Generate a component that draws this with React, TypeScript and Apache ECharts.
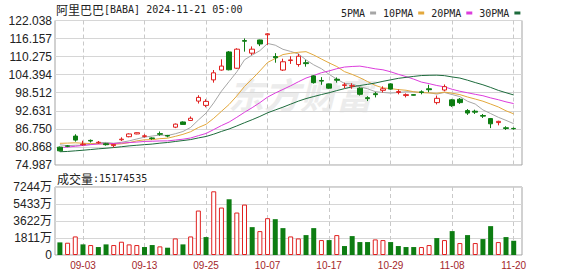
import React, { useEffect, useRef } from 'react';
import * as echarts from 'echarts';

const dates = ['08-28','08-29','08-30','09-03','09-04','09-05','09-06','09-09','09-10','09-11','09-12','09-13','09-16','09-17','09-18','09-19','09-20','09-23','09-24','09-25','09-26','09-27','09-30','10-01','10-02','10-03','10-04','10-07','10-08','10-09','10-10','10-11','10-14','10-15','10-16','10-17','10-18','10-21','10-22','10-23','10-24','10-25','10-28','10-29','10-30','10-31','11-01','11-04','11-05','11-06','11-07','11-08','11-11','11-12','11-13','11-14','11-15','11-18','11-19','11-20'];

const opens = [80.8,81.2,84.4,81.6,83.0,82.2,81.9,81.3,83.2,84.2,85.1,84.3,83.8,85.2,84.6,87.3,89.0,89.5,95.8,94.4,102.7,105.9,111.8,106.5,115.5,111.4,115.7,117.4,110.3,105.9,109.0,107.7,108.3,104.0,102.5,101.4,102.9,100.9,100.7,100.0,96.9,98.2,99.3,101.4,98.6,97.6,97.9,98.8,99.8,95.3,99.4,96.2,96.4,92.7,92.5,91.1,90.1,88.8,87.1,86.9];
const closes = [79.6,81.1,83.1,81.8,82.8,82.4,81.6,81.7,83.4,85.1,85.5,84.5,83.6,85.0,84.4,88.3,88.2,90.2,97.0,95.7,105.0,107.2,106.0,112.7,115.3,112.7,114.4,117.7,109.9,108.6,109.2,110.4,108.0,101.8,102.3,100.0,102.6,101.1,100.8,98.0,96.6,97.9,99.8,99.7,98.9,97.9,97.7,98.6,99.5,96.7,100.5,94.3,95.3,91.9,92.2,90.9,88.4,89.2,86.9,86.8];
const lows = [79.4,80.8,82.6,81.3,82.3,81.9,81.3,80.7,82.8,84.0,85.0,83.9,83.2,84.5,84.0,87.0,88.1,89.3,95.0,93.8,101.8,105.7,105.8,106.3,111.9,110.8,113.7,114.1,108.3,105.6,107.9,107.0,107.0,101.5,101.1,99.8,101.8,100.0,99.8,97.6,95.8,97.0,98.6,99.5,98.0,97.0,97.6,98.0,98.7,94.7,99.0,93.9,94.9,91.3,91.6,90.3,87.0,87.9,86.4,86.5];
const highs = [81.0,81.5,85.0,82.9,83.3,82.8,82.2,81.8,84.0,85.3,85.6,85.0,84.0,85.9,84.8,88.5,89.2,90.8,97.7,96.4,105.9,109.4,112.1,113.0,116.2,113.6,115.8,117.9,111.4,109.6,110.4,111.2,109.2,104.2,103.6,101.5,103.5,101.8,101.6,100.3,97.4,98.8,100.6,101.6,99.6,98.3,98.0,99.3,101.1,97.6,101.2,96.5,96.8,93.2,93.0,91.6,90.3,89.4,87.6,87.2];

const volumes = [13430000,13080000,19790000,11310000,10600000,8480000,11310000,10600000,14140000,11310000,10600000,8480000,10600000,9190000,7770000,17670000,11310000,19790000,47360000,19080000,67850000,50540000,59370000,45240000,53720000,29690000,25450000,39230000,38170000,28630000,19790000,17670000,21200000,28630000,15900000,15900000,21200000,9540000,20140000,13780000,13780000,16610000,15900000,13780000,9540000,8480000,8480000,8480000,10600000,18020000,15900000,25450000,12720000,21200000,12720000,16960000,30750000,13780000,19080000,15174535];

// closes of the 29 sessions before 08-28, estimated from where the MA lines start
const priorCloses = [78.0,77.2,76.1,75.8,75.5,75.9,75.0,75.4,76.8,79.3,78.6,77.9,76.2,77.8,78.5,79.1,80.6,81.0,81.5,82.3,80.5,82.0,83.2,84.0,82.9,82.6,82.4,81.9,81.4];

const maPeriods = [5, 10, 20, 30];
const maNames = ['5PMA', '10PMA', '20PMA', '30PMA'];
const maColors = ['#a6a6a6', '#e3a83c', '#dc3ddc', '#1d6b3c'];

const priceTickLabels = ['74.987','80.868','86.750','92.631','98.512','104.394','110.275','116.157','122.038'];
const volumeTickLabels = ['0','1811万','3622万','5433万','7244万'];
const labelDates = ['09-03','09-13','09-25','10-07','10-17','10-29','11-08','11-20'];

const priceMin = 74.987;
const priceMax = 122.038;
const volumeMax = 72440000;

const UP = '#e0201f';
const DOWN = '#0d7d12';

function movingAverage(period: number): (number | string)[] {
  const all = priorCloses.concat(closes);
  const off = priorCloses.length;
  return closes.map((_, i) => {
    const end = off + i;
    const start = end - period + 1;
    if (start < 0) return '-';
    let s = 0;
    for (let k = start; k <= end; k++) s += all[k];
    return +(s / period).toFixed(3);
  });
}

export default function App() {
  const ref = useRef<HTMLDivElement>(null);
  useEffect(() => {
    if (!ref.current) return;
    const chart = echarts.init(ref.current, undefined, { renderer: 'svg' });
    const priceInterval = (priceMax - priceMin) / 8;
    const volInterval = volumeMax / 4;
    const isLabel = (index: number) => labelDates.indexOf(dates[index]) >= 0;

    const ohlc = dates.map((_, i) => [opens[i], closes[i], lows[i], highs[i]]);
    const volData = volumes.map((v, i) => {
      const prev = i === 0 ? priorCloses[priorCloses.length - 1] : closes[i - 1];
      const up = closes[i] >= prev;
      return {
        value: v,
        itemStyle: up
          ? { color: '#ffffff', borderColor: UP, borderWidth: 1 }
          : { color: DOWN, borderColor: DOWN, borderWidth: 0 },
      };
    });

    const splitDash = { show: true, interval: (i: number) => isLabel(i), lineStyle: { color: '#c9c9c9', type: [4, 3] as any, width: 1 } };

    const option: any = {
      animation: false,
      backgroundColor: '#ffffff',
      textStyle: { fontFamily: 'Liberation Sans, Arial, sans-serif' },
      legend: {
        data: maNames,
        left: 336,
        top: 3,
        align: 'right',
        icon: 'rect',
        itemWidth: 6,
        itemHeight: 3,
        itemGap: 7,
        selectedMode: false,
        textStyle: { fontFamily: 'DejaVu Sans Mono', fontSize: 10, color: '#222' },
      },
      graphic: [
        {
          type: 'text', x: 228, y: 93, z: -1, silent: true,
          style: { text: '东方财富', fontSize: 36, fontWeight: 'bold', fontStyle: 'italic', fontFamily: 'Noto Sans CJK SC', fill: '#ececec', verticalAlign: 'middle' },
        },
        {
          type: 'text', x: 56, y: 9,
          style: {
            text: '{a|阿里巴巴}{b|[BABA] 2024-11-21 05:00}',
            verticalAlign: 'middle',
            rich: {
              a: { fontFamily: 'Noto Sans CJK SC', fontSize: 12, fill: '#222' },
              b: { fontFamily: 'DejaVu Sans Mono', fontSize: 10, fill: '#222' },
            },
          },
        },
        {
          type: 'text', x: 57, y: 178,
          style: {
            text: '{a|成交量}{b|:' + volumes[volumes.length - 1] + '}',
            verticalAlign: 'middle',
            rich: {
              a: { fontFamily: 'Noto Sans CJK SC', fontSize: 12, fill: '#222' },
              b: { fontFamily: 'DejaVu Sans Mono', fontSize: 10, fill: '#222' },
            },
          },
        },
      ],
      grid: [
        { left: 55, top: 20.5, width: 467, height: 144.5, show: true, borderColor: '#a3a3a3', borderWidth: 1, backgroundColor: 'transparent' },
        { left: 55, top: 187, width: 467, height: 68, show: true, borderColor: '#a3a3a3', borderWidth: 1, backgroundColor: 'transparent' },
        { left: 59.9, top: 20.5, width: 453.8, height: 144.5 },
        { left: 59.9, top: 187, width: 453.8, height: 68 },
      ],
      xAxis: [
        { type: 'value', gridIndex: 0, show: false, min: 0, max: 1 },
        { type: 'value', gridIndex: 1, show: false, min: 0, max: 1 },
        {
          type: 'category', gridIndex: 2, data: dates, boundaryGap: false,
          axisLine: { show: false }, axisTick: { show: false }, axisLabel: { show: false },
          splitLine: splitDash,
        },
        {
          type: 'category', gridIndex: 3, data: dates, boundaryGap: false,
          axisLine: { show: false }, axisTick: { show: false },
          axisLabel: { interval: (i: number) => isLabel(i), color: '#a3262a', fontSize: 10, margin: 5, fontFamily: 'Liberation Sans' },
          splitLine: splitDash,
        },
      ],
      yAxis: [
        {
          type: 'value', gridIndex: 0, min: priceMin, max: priceMax, interval: priceInterval,
          axisLine: { show: false }, axisTick: { show: false },
          axisLabel: {
            margin: 3, fontSize: 12, color: '#222', fontFamily: 'Liberation Sans',
            formatter: (v: number) => priceTickLabels[Math.round((v - priceMin) / priceInterval)] ?? '',
          },
          splitLine: { show: true, lineStyle: { color: '#d6d6d6', width: 1 } },
        },
        {
          type: 'value', gridIndex: 1, min: 0, max: volumeMax, interval: volInterval,
          axisLine: { show: false }, axisTick: { show: false },
          axisLabel: {
            margin: 3, fontSize: 12, color: '#222', fontFamily: 'Liberation Sans, Noto Sans CJK SC',
            formatter: (v: number) => volumeTickLabels[Math.round(v / volInterval)] ?? '',
          },
          splitLine: { show: true, lineStyle: { color: '#d6d6d6', width: 1 } },
        },
        { type: 'value', gridIndex: 2, min: priceMin, max: priceMax, show: false },
        { type: 'value', gridIndex: 3, min: 0, max: volumeMax, show: false },
      ],
      series: [
        ...maPeriods.map((p, k) => ({
          name: maNames[k],
          type: 'line',
          xAxisIndex: 2,
          yAxisIndex: 2,
          data: movingAverage(p),
          showSymbol: false,
          symbol: 'none',
          color: maColors[k],
          lineStyle: { width: 1, color: maColors[k] },
          itemStyle: { color: maColors[k] },
          z: 3,
        })),
        {
          name: 'K',
          type: 'candlestick',
          xAxisIndex: 2,
          yAxisIndex: 2,
          data: ohlc,
          barWidth: 5,
          clip: false,
          itemStyle: { color: '#ffffff', color0: DOWN, borderColor: UP, borderColor0: DOWN, borderWidth: 1 },
          z: 5,
        },
        {
          name: 'VOL',
          type: 'bar',
          xAxisIndex: 3,
          yAxisIndex: 3,
          data: volData,
          barWidth: 5,
          clip: false,
          z: 4,
        },
      ],
    };
    chart.setOption(option);
    return () => chart.dispose();
  }, []);
  return <div ref={ref} style={{ position: 'fixed', left: 0, top: 0, width: 578, height: 276 }} />;
}
